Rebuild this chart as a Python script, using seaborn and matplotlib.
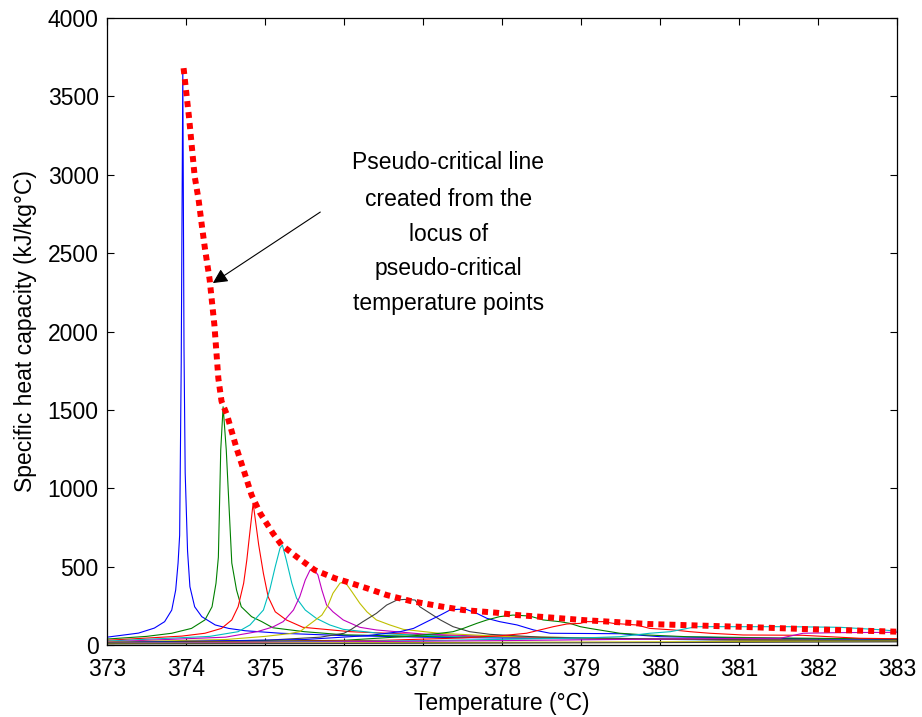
import numpy as np
import pandas as pd
import matplotlib
matplotlib.use("Agg")
import matplotlib.pyplot as plt
import seaborn as sns

# ---------------- data ----------------
t1 = [373.0, 373.4, 373.6, 373.73, 373.82, 373.87, 373.9, 373.92, 373.94, 373.96, 373.975, 373.99, 374.02, 374.05, 374.11, 374.2, 374.37, 374.54, 374.75, 375.2, 376, 377, 378.5, 380, 381.5, 383]
c1 = [50, 76, 108, 149, 223, 351, 523, 700, 1800, 3670, 1900, 1100, 600, 372, 244, 181, 128, 106, 91, 75, 60, 50, 42, 36, 32, 28]

t2 = [373.0, 373.5, 373.82, 374.07, 374.24, 374.33, 374.38, 374.41, 374.44, 374.47, 374.51, 374.58, 374.64, 374.70, 374.83, 374.96, 375.1, 375.5, 376, 377, 378.5, 380, 381.5, 383]
c2 = [38, 55, 75, 106, 160, 244, 394, 560, 1244, 1520, 1244, 523, 351, 244, 181, 149, 110, 85, 65, 55, 45, 38, 33, 28]

t3 = [373.0, 373.95, 374.24, 374.45, 374.58, 374.66, 374.73, 374.77, 374.80, 374.85, 374.92, 374.98, 375.04, 375.13, 375.27, 375.48, 376.08, 377.5, 379, 381, 383]
c3 = [30, 57, 75, 106, 160, 244, 394, 542, 680, 905, 640, 457, 308, 212, 160, 113, 85, 55, 42, 33, 28]

t4 = [373.0, 374.3, 374.66, 374.81, 374.98, 375.06, 375.13, 375.19, 375.22, 375.27, 375.34, 375.40, 375.51, 375.65, 375.82, 375.99, 376.5, 377.5, 379, 381, 383]
c4 = [25, 55, 85, 128, 223, 351, 500, 617, 638, 542, 394, 298, 223, 170, 128, 100, 72, 52, 40, 32, 27]

t5 = [373.0, 374.5, 374.9, 375.1, 375.23, 375.36, 375.44, 375.51, 375.57, 375.61, 375.67, 375.72, 375.78, 375.86, 375.99, 376.2, 376.41, 377, 378, 379.5, 381, 383]
c5 = [20, 50, 85, 115, 149, 223, 308, 415, 478, 489, 447, 351, 255, 212, 160, 113, 96, 70, 52, 40, 33, 27]

t6 = [373.0, 374.5, 375.0, 375.3, 375.44, 375.61, 375.72, 375.80, 375.86, 375.95, 376.01, 376.10, 376.20, 376.29, 376.41, 376.58, 376.75, 377.2, 378, 379.5, 381, 383]
c6 = [18, 35, 55, 72, 85, 149, 191, 255, 330, 395, 404, 340, 266, 212, 160, 128, 100, 75, 55, 42, 32, 27]

t7 = [373.0, 375.0, 375.7, 376.0, 376.08, 376.24, 376.41, 376.54, 376.67, 376.77, 376.9, 376.96, 377.09, 377.22, 377.38, 377.59, 377.85, 378.5, 380, 381.5, 383]
c7 = [16, 30, 50, 75, 96, 149, 202, 255, 287, 291, 287, 244, 202, 160, 117, 85, 68, 50, 38, 32, 28]

t8 = [373.0, 375.5, 376.3, 376.71, 376.88, 377.05, 377.22, 377.34, 377.45, 377.55, 377.68, 377.81, 377.97, 378.19, 378.40, 378.61, 379.5, 380, 381.5, 383]
c8 = [15, 35, 60, 85, 106, 149, 191, 223, 228, 227, 202, 170, 149, 128, 96, 75, 72, 53, 42, 35]

t9 = [373.0, 376.0, 376.8, 377.22, 377.38, 377.51, 377.68, 377.81, 377.97, 378.14, 378.35, 378.52, 378.73, 378.86, 378.99, 379.11, 379.49, 379.83, 380.34, 381.5, 383]
c9 = [14, 30, 55, 75, 85, 106, 138, 160, 181, 191, 185, 160, 149, 138, 117, 106, 75, 64, 53, 45, 38]

t10 = [373.0, 376.5, 377.5, 378.0, 378.31, 378.48, 378.65, 378.82, 378.99, 379.07, 379.28, 379.41, 379.7, 379.87, 380.17, 380.38, 380.63, 381.05, 381.8, 382.53, 383]
c10 = [12, 30, 45, 60, 75, 96, 117, 134, 138, 149, 149, 138, 128, 106, 96, 85, 75, 64, 62, 43, 40]

t11 = [373.0, 377.0, 378.5, 379.2, 379.49, 379.87, 380.13, 380.46, 381.0, 381.6, 382.28, 382.83, 383]
c11 = [11, 28, 40, 48, 53, 75, 85, 117, 117, 117, 113, 96, 88]

t12 = [373.0, 378.0, 380.0, 381.0, 381.52, 381.81, 382.28, 383]
c12 = [10, 28, 38, 42, 43, 75, 79, 81]

t13 = [373.0, 376.0, 379.0, 381.0, 383]
c13 = [9, 14, 19, 22, 25]

t14 = [373.0, 376.0, 379.0, 381.0, 383]
c14 = [7, 10, 14, 17, 20]

# pseudo-critical locus (red dotted line)
locus_t = [373.97, 374.04, 374.11, 374.16, 374.20, 374.24, 374.30, 374.36, 374.41, 374.45, 374.52, 374.64, 374.73, 374.83, 374.94, 375.10, 375.21, 375.40, 375.63, 375.89, 376.03, 376.29, 376.54, 376.84, 377.24, 377.51, 377.93, 378.19, 378.6, 379.03, 379.85, 380.97, 381.94, 383.0]
locus_cp = [3680, 3360, 2990, 2840, 2680, 2530, 2330, 2040, 1700, 1555, 1467, 1255, 1116, 957, 840, 713, 638, 563, 478, 425, 404, 362, 319, 281, 245, 223, 206, 191, 176, 159, 134, 117, 100, 85]

x_ticks = [373, 374, 375, 376, 377, 378, 379, 380, 381, 382, 383]
y_ticks = [0, 500, 1000, 1500, 2000, 2500, 3000, 3500, 4000]

annotation_lines = ["Pseudo-critical line", "created from the", "locus of",
                    "pseudo-critical", "temperature points"]

series_t = [t1, t2, t3, t4, t5, t6, t7, t8, t9, t10, t11, t12, t13, t14]
series_c = [c1, c2, c3, c4, c5, c6, c7, c8, c9, c10, c11, c12, c13, c14]
colors = ["#0000FF", "#008000", "#FF0000", "#00BFBF", "#BF00BF", "#BFBF00", "#404040",
          "#0000FF", "#008000", "#FF0000", "#00BFBF", "#BF00BF", "#BFBF00", "#404040"]

# ---------------- plotting ----------------
sns.set_style("ticks")
plt.rcParams["font.family"] = ["Liberation Sans", "DejaVu Sans"]

rows = []
for i, (tt, cc) in enumerate(zip(series_t, series_c)):
    for a, b in zip(tt, cc):
        rows.append({"T": a, "cp": b, "curve": f"c{i}"})
df = pd.DataFrame(rows)
palette = {f"c{i}": colors[i] for i in range(len(series_t))}

fig = plt.figure(figsize=(9.22, 7.17), dpi=100)
ax = fig.add_axes([0.116, 0.1004, 0.857, 0.8745])

sns.lineplot(data=df, x="T", y="cp", hue="curve", palette=palette, estimator=None,
             sort=False, lw=0.8, legend=False, ax=ax)

loc_df = pd.DataFrame({"T": locus_t, "cp": locus_cp})
sns.lineplot(data=loc_df, x="T", y="cp", color="#FF0000", lw=4.3, estimator=None,
             sort=False, linestyle=(0, (1, 0.85)), dash_capstyle="butt", ax=ax)

ax.set_xlim(373, 383)
ax.set_ylim(0, 4000)
ax.set_xticks(x_ticks)
ax.set_yticks(y_ticks)
ax.set_xticklabels([str(v) for v in x_ticks])
ax.set_yticklabels([str(v) for v in y_ticks])
ax.tick_params(direction="in", length=5, width=0.8, labelsize=16.5, colors="black",
               top=True, right=True)
ax.tick_params(axis="x", pad=9)
ax.tick_params(axis="y", pad=6)
for s in ax.spines.values():
    s.set_visible(True)
    s.set_color("black")
    s.set_linewidth(0.9)

ax.set_xlabel("Temperature (°C)", fontsize=16.5, labelpad=8, color="black")
ax.set_ylabel("Specific heat capacity (kJ/kg°C)", fontsize=16.5, labelpad=8, color="black")

# annotation text
text_x = 377.32
text_y = [3075, 2845, 2622, 2399, 2176]
for line, yy in zip(annotation_lines, text_y):
    ax.text(text_x, yy, line, ha="center", va="center", fontsize=16.5, color="black")

ax.annotate("", xy=(374.34, 2309), xytext=(375.70, 2762),
            arrowprops=dict(arrowstyle="-|>", color="black", lw=0.8,
                            mutation_scale=22, shrinkA=0, shrinkB=0))

fig.savefig("out.png", dpi=100, facecolor="white")
